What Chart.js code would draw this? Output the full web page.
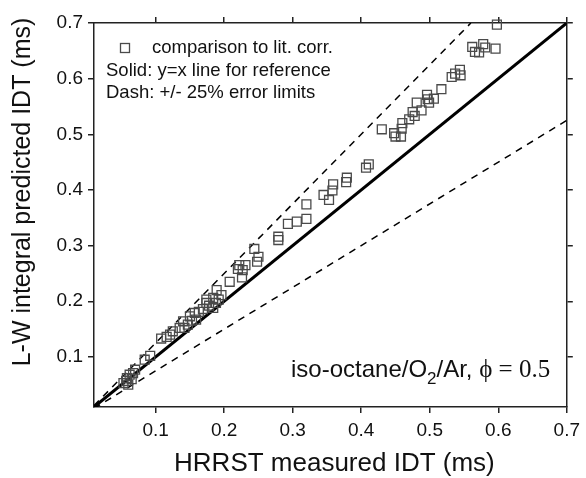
<!DOCTYPE html>
<html>
<head>
<meta charset="utf-8">
<script src="https://cdn.jsdelivr.net/npm/chart.js@4.4.1/dist/chart.umd.min.js"></script>
<style>
  html, body { margin: 0; padding: 0; background: #fff; }
  #wrap { width: 586px; height: 478px; }
</style>
</head>
<body>
<div id="wrap"><canvas id="chart" width="586" height="478"></canvas></div>
<script>
// HRRST measured IDT (ms) vs L-W integral predicted IDT (ms)
const measuredIDT = [
  0.598, 0.562, 0.578, 0.581, 0.572, 0.596, 0.566,
  0.532, 0.537, 0.544, 0.545, 0.517,
  0.496, 0.506, 0.499, 0.481, 0.497, 0.488, 0.475, 0.478, 0.470, 0.460, 0.459,
  0.430, 0.448, 0.450, 0.458,
  0.411, 0.407, 0.379, 0.378, 0.359, 0.358, 0.345, 0.353,
  0.320, 0.320, 0.306, 0.293, 0.279, 0.279,
  0.244, 0.250, 0.248, 0.222, 0.231, 0.220, 0.227, 0.226, 0.208,
  0.189, 0.196, 0.184, 0.174, 0.188, 0.169, 0.184, 0.157, 0.150, 0.159,
  0.140, 0.147, 0.142, 0.125, 0.116, 0.121, 0.192, 0.178, 0.163, 0.153,
  0.135, 0.108, 0.174,
  0.092, 0.084, 0.070, 0.062, 0.058, 0.053, 0.060, 0.067, 0.065, 0.057
];
const predictedIDT = [
  0.697, 0.657, 0.662, 0.656, 0.647, 0.654, 0.648,
  0.603, 0.609, 0.616, 0.606, 0.581,
  0.571, 0.564, 0.557, 0.557, 0.563, 0.543, 0.540, 0.533, 0.527, 0.520, 0.510,
  0.509, 0.502, 0.496, 0.496,
  0.446, 0.440, 0.422, 0.414, 0.410, 0.399, 0.391, 0.382,
  0.374, 0.348, 0.343, 0.339, 0.316, 0.310,
  0.294, 0.280, 0.271, 0.265, 0.265, 0.258, 0.256, 0.243, 0.235,
  0.220, 0.211, 0.206, 0.197, 0.197, 0.186, 0.188, 0.179, 0.173, 0.167,
  0.164, 0.158, 0.152, 0.146, 0.136, 0.140, 0.203, 0.192, 0.181, 0.165,
  0.152, 0.133, 0.203,
  0.102, 0.095, 0.077, 0.068, 0.062, 0.053, 0.050, 0.071, 0.060, 0.057
];

// reference lines (end points)
const parityX = [0.01, 0.7];
const parityY = [0.01, 0.7];
const upperX = [0.01, 0.56];
const upperY = [0.0125, 0.7];
const lowerX = [0.01, 0.7];
const lowerY = [0.0075, 0.525];

const tickValues = [0.1, 0.2, 0.3, 0.4, 0.5, 0.6, 0.7];
const axisMin = 0.01;
const axisMax = 0.7;

const SANS = "'Liberation Sans', Arial, sans-serif";
const SERIF = "'Liberation Serif', 'Times New Roman', serif";

function pairs(xs, ys) {
  return xs.map((x, i) => ({ x: x, y: ys[i] }));
}

function fixedTicks(scale) {
  scale.ticks = tickValues.map(v => ({ value: v }));
}

function gridOpts() {
  return {
    drawOnChartArea: false,
    drawTicks: true,
    tickLength: 6,
    color: '#222',
    lineWidth: 1.5
  };
}

const borderOpts = { display: true, color: '#222', width: 1.5 };

// texts inside the plot and axis titles
const annotate = {
  id: 'annotate',
  afterDraw(chart) {
    const ctx = chart.ctx;
    const area = chart.chartArea;
    ctx.save();
    ctx.fillStyle = '#111';

    // legend block
    ctx.strokeStyle = '#4a4a4a';
    ctx.lineWidth = 1.3;
    ctx.strokeRect(area.left + 26.5, area.top + 20.5, 9, 9);
    ctx.font = '18.5px ' + SANS;
    ctx.textBaseline = 'middle';
    ctx.textAlign = 'left';
    ctx.fillText('comparison to lit. corr.', area.left + 58, area.top + 25);
    ctx.fillText('Solid: y=x line for reference', area.left + 12, area.top + 48);
    ctx.fillText('Dash: +/- 25% error limits', area.left + 12, area.top + 70);

    // mixture label
    ctx.textBaseline = 'alphabetic';
    let x = area.left + 197;
    const base = 377;
    ctx.font = '24px ' + SANS;
    ctx.fillText('iso-octane/O', x, base);
    x += ctx.measureText('iso-octane/O').width;
    ctx.font = '17px ' + SANS;
    ctx.fillText('2', x, base + 7);
    x += ctx.measureText('2').width;
    ctx.font = '24px ' + SANS;
    ctx.fillText('/Ar, ', x, base);
    x += ctx.measureText('/Ar, ').width;
    ctx.font = '25px ' + SERIF;
    ctx.fillText('\u03D5 = 0.5', x, base);

    // axis titles
    ctx.font = '26px ' + SANS;
    ctx.textAlign = 'center';
    ctx.textBaseline = 'middle';
    ctx.fillText('HRRST measured IDT (ms)', (area.left + area.right) / 2 + 4, 464);
    ctx.font = '25px ' + SANS;
    ctx.translate(23, 192);
    ctx.rotate(-Math.PI / 2);
    ctx.fillText('L-W integral predicted IDT (ms)', 0, 0);
    ctx.restore();
  }
};

const ctx = document.getElementById('chart').getContext('2d');
new Chart(ctx, {
  type: 'scatter',
  data: {
    datasets: [
      {
        label: 'comparison to lit. corr.',
        data: pairs(measuredIDT, predictedIDT),
        pointStyle: 'rect',
        pointRadius: 6.3,
        borderColor: '#4a4a4a',
        backgroundColor: 'rgba(0,0,0,0)',
        borderWidth: 1.3,
        clip: false
      },
      {
        label: 'y=x',
        data: pairs(parityX, parityY),
        showLine: true,
        pointRadius: 0,
        borderColor: '#000',
        borderWidth: 3
      },
      {
        label: '+25%',
        data: pairs(upperX, upperY),
        showLine: true,
        pointRadius: 0,
        borderColor: '#000',
        borderWidth: 1.5,
        borderDash: [7, 6]
      },
      {
        label: '-25%',
        data: pairs(lowerX, lowerY),
        showLine: true,
        pointRadius: 0,
        borderColor: '#000',
        borderWidth: 1.5,
        borderDash: [7, 6]
      }
    ]
  },
  options: {
    responsive: false,
    animation: false,
    devicePixelRatio: 1,
    layout: { padding: 0 },
    plugins: {
      legend: { display: false },
      tooltip: { enabled: false }
    },
    scales: {
      x: {
        type: 'linear',
        position: 'bottom',
        min: axisMin,
        max: axisMax,
        afterBuildTicks: fixedTicks,
        afterFit: s => { s.height = 71; },
        ticks: {
          font: { family: SANS, size: 19 },
          color: '#111',
          padding: 6,
          maxRotation: 0,
          autoSkip: false,
          callback: v => v.toFixed(1)
        },
        grid: gridOpts(),
        border: borderOpts
      },
      y: {
        type: 'linear',
        position: 'left',
        min: axisMin,
        max: axisMax,
        afterBuildTicks: fixedTicks,
        afterFit: s => { s.width = 94; },
        ticks: {
          font: { family: SANS, size: 19 },
          color: '#111',
          padding: 5,
          autoSkip: false,
          callback: v => v.toFixed(1)
        },
        grid: gridOpts(),
        border: borderOpts
      },
      x2: {
        type: 'linear',
        position: 'top',
        min: axisMin,
        max: axisMax,
        afterBuildTicks: fixedTicks,
        afterFit: s => { s.height = 23; },
        ticks: { display: false },
        grid: gridOpts(),
        border: borderOpts
      },
      y2: {
        type: 'linear',
        position: 'right',
        min: axisMin,
        max: axisMax,
        afterBuildTicks: fixedTicks,
        afterFit: s => { s.width = 18; },
        ticks: { display: false },
        grid: gridOpts(),
        border: borderOpts
      }
    }
  },
  plugins: [annotate]
});
</script>
</body>
</html>
